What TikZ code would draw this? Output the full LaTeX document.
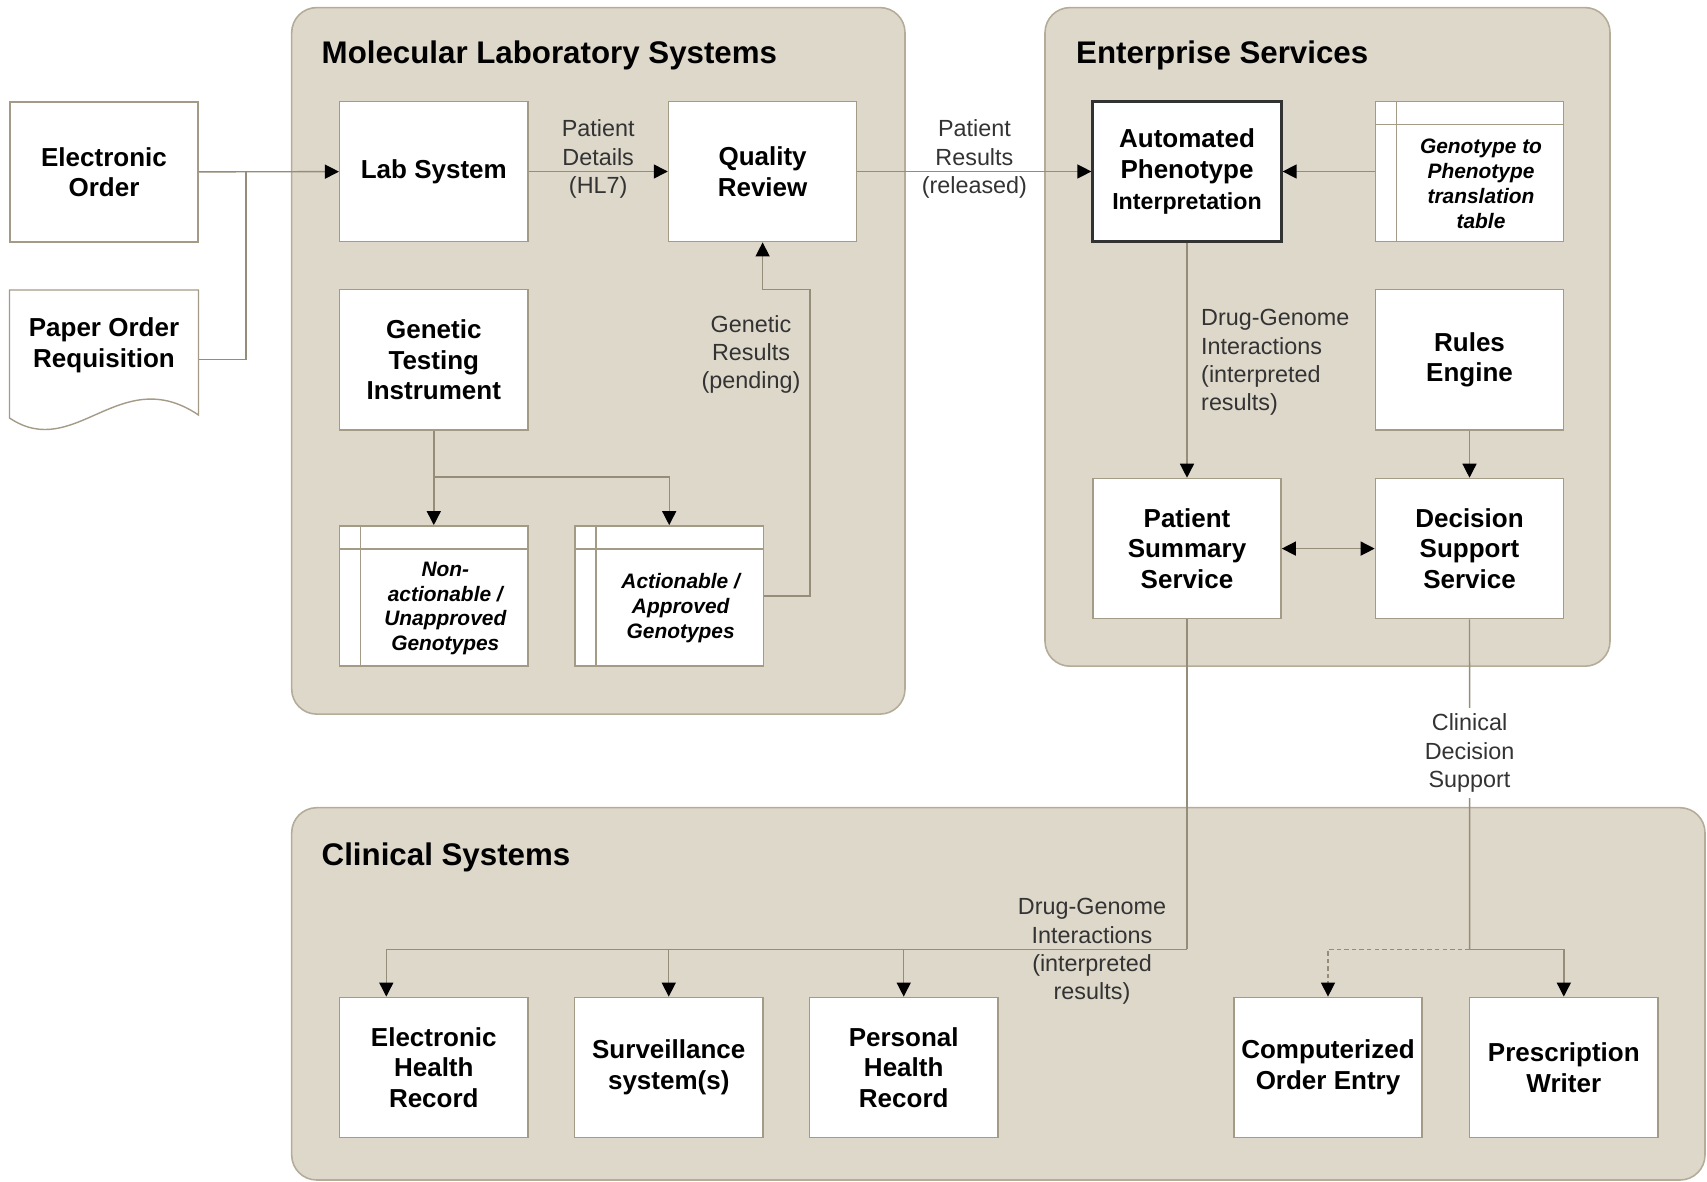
\documentclass[tikz,border=0pt]{standalone}
\usepackage{fontspec}
\setmainfont{Liberation Sans}
\usetikzlibrary{arrows.meta}

\definecolor{panelfill}{HTML}{DED8CB}
\definecolor{paneledge}{HTML}{B4AC98}
\definecolor{boxedge}{HTML}{A39B86}
\definecolor{wirecol}{HTML}{958C7A}
\definecolor{labeltext}{HTML}{333333}

\begin{document}
\begin{tikzpicture}[x=0.02cm,y=-0.02cm,node distance=4.7cm,
    >={Triangle[color=black,length=0.28cm,width=0.28cm]},
    panel/.style={draw=paneledge,fill=panelfill,line width=0.9pt,rounded corners=0.5cm},
    title/.style={anchor=west,font=\fontsize{17.8}{21}\selectfont\bfseries},
    main node/.style={draw=boxedge,fill=white,line width=0.8pt,minimum width=3.766cm,
        minimum height=2.808cm,align=center,inner sep=1pt,
        font=\fontsize{14.8}{17.4}\selectfont\bfseries},
    table node/.style={main node,path picture={
        \draw[boxedge,line width=0.8pt] ([xshift=0.42cm]path picture bounding box.north west)
            -- ([xshift=0.42cm]path picture bounding box.south west);
        \draw[boxedge,line width=0.8pt] ([yshift=-0.46cm]path picture bounding box.north west)
            -- ([yshift=-0.46cm]path picture bounding box.north east);}},
    table text/.style={align=center,font=\fontsize{11.9}{14.2}\selectfont\bfseries\itshape},
    wire/.style={draw=wirecol,line width=0.8pt},
    wire label/.style={align=center,text=labeltext,font=\fontsize{13.3}{16.1}\selectfont}]
  \useasboundingbox (0,0) rectangle (1707,1182);

  %panels%
  \draw[panel] (291.7,7.6) rectangle (905,714.1);
  \draw[panel] (1045,7.6) rectangle (1610,666.2);
  \draw[panel] (291.7,807.7) rectangle (1705,1180);
  \node[title] (mls) at (315.5,55.5) {Molecular Laboratory Systems};
  \node[title] (ent) at (1070,55.5) {Enterprise Services};
  \node[title] (clin) at (315.5,857) {Clinical Systems};

  %orders%
  \node[main node] (eorder) at (104,172) {Electronic\\Order};
  \draw[draw=boxedge,line width=0.8pt] (9.5,418) .. controls (75,462) and (120,362) .. (198.5,415)
    -- (198.5,290) -- (9.5,290) -- cycle;
  \node[main node,draw=none,fill=none,minimum height=1cm] (paper) at (104,345) {Paper Order\\Requisition};
  \coordinate (merge) at (246,172);

  %lab%
  \node[main node] (lab) at (433.8,171.5) {Lab System};
  \node[main node] (qr) at (762.6,171.5) {Quality\\Review};
  \node[main node] (gti) at (433.8,359.8) {Genetic\\Testing\\Instrument};
  \node[table node] (nonact) at (433.8,596) {};
  \node[table node] (act) at (669.2,596) {};
  \node[table text] (nonact-text) at ([xshift=0.23cm,yshift=-0.25cm]nonact.center) {Non-\\actionable /\\Unapproved\\Genotypes};
  \node[table text] (act-text) at ([xshift=0.23cm,yshift=-0.25cm]act.center) {Actionable /\\Approved\\Genotypes};
  \coordinate (split) at (433.8,476.8);
  \coordinate (loop) at (810,289.6);

  %enterprise%
  \node[main node,draw=black!80,line width=1.7pt] (api) at (1187,171.5)
    {Automated\\Phenotype\\{\fontsize{13.2}{17.4}\selectfont Interpretation}};
  \node[table node] (g2p) at (1469.5,171.5) {};
  \node[table text] (g2p-text) at ([xshift=0.23cm,yshift=-0.25cm]g2p.center) {Genotype to\\Phenotype\\translation\\table};
  \node[main node] (rules) at (1469.5,359.8) {Rules\\Engine};
  \node[main node] (pss) at (1187,548.6) {Patient\\Summary\\Service};
  \node[main node] (dss) at (1469.5,548.6) {Decision\\Support\\Service};

  %clinical%
  \node[main node] (ehr) at (433.8,1067.5) {Electronic\\Health\\Record};
  \node[main node] (surv) [right of=ehr] {Surveillance\\system(s)};
  \node[main node] (phr) [right of=surv] {Personal\\Health\\Record};
  \node[main node] (cpoe) at (1328,1067.5) {Computerized\\Order Entry};
  \node[main node] (pw) at (1563.8,1067.5) {Prescription\\Writer};
  \coordinate (fanout) at (1187,949.3);
  \coordinate (cdsfork) at (1469.6,949.3);

  %connectors%
  \draw[wire,->] (eorder) -- (lab);
  \draw[wire] ([yshift=-0.29cm]paper.east) -| (merge);
  \draw[wire,->] (lab) -- node[wire label,yshift=0.25cm] (hl7) {Patient\\Details\\(HL7)} (qr);
  \draw[wire,->] (qr) -- node[wire label,yshift=0.25cm] (released) {Patient\\Results\\(released)} (api);
  \draw[wire,->] (gti) -- (nonact);
  \draw[wire,->] (split) -| (act);
  \draw[wire,->] (act.east) -| (loop) -| (qr);
  \node[wire label] (pending) at (751,354.5) {Genetic\\Results\\(pending)};
  \draw[wire,->] (g2p) -- (api);
  \draw[wire,->] (api) -- (pss);
  \node[wire label,anchor=west,align=left] (dgi) at (1195,362.5) {Drug-Genome\\Interactions\\(interpreted\\results)};
  \draw[wire,->] (rules) -- (dss);
  \draw[wire,<->] (pss) -- (dss);
  \draw[wire] (pss) -- (fanout);
  \draw[wire,->] (fanout) -| ([xshift=-0.95cm]ehr.north);
  \draw[wire,->] (fanout) -| (surv);
  \draw[wire,->] (fanout) -| (phr);
  \node[wire label] (dgi-out) at (1092,951.5) {Drug-Genome\\Interactions\\(interpreted\\results)};
  \draw[wire] (dss) -- node[pos=0.405,wire label,fill=white] (cds) {Clinical\\Decision\\Support} (cdsfork);
  \draw[wire,->] (cdsfork) -| (pw);
  \draw[wire,dash pattern=on 2.5pt off 1.8pt,->] (cdsfork) -| (cpoe);
\end{tikzpicture}
\end{document}
